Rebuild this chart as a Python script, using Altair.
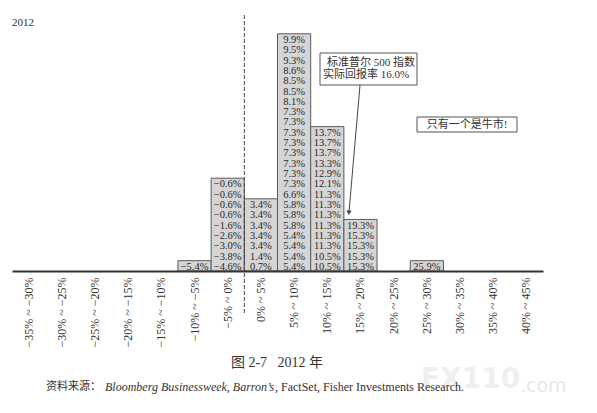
import altair as alt
import pandas as pd

# ---------------- data ----------------
bins = ["−35% ~ −30%", "−30% ~ −25%", "−25% ~ −20%", "−20% ~ −15%", "−15% ~ −10%",
        "−10% ~ −5%", "−5% ~ 0%", "0% ~ 5%", "5% ~ 10%", "10% ~ 15%", "15% ~ 20%",
        "20% ~ 25%", "25% ~ 30%", "30% ~ 35%", "35% ~ 40%", "40% ~ 45%"]

# strategist forecasts in each bin, listed bottom to top
fc_m10_m5 = [-5.4]
fc_m5_0 = [-4.6, -3.8, -3.0, -2.6, -1.6, -0.6, -0.6, -0.6, -0.6]
fc_0_5 = [0.7, 1.4, 3.4, 3.4, 3.4, 3.4, 3.4]
fc_5_10 = [5.4, 5.4, 5.4, 5.4, 5.8, 5.8, 5.8, 6.6, 7.3, 7.3, 7.3, 7.3, 7.3, 7.3,
           7.3, 7.3, 8.1, 8.5, 8.5, 8.6, 9.3, 9.5, 9.9]
fc_10_15 = [10.5, 10.5, 11.3, 11.3, 11.3, 11.3, 11.3, 11.3, 12.1, 12.9, 13.3,
            13.7, 13.7, 13.7]
fc_15_20 = [15.3, 15.3, 15.3, 15.3, 19.3]
fc_25_30 = [25.9]

columns = {
    "−10% ~ −5%": fc_m10_m5,
    "−5% ~ 0%": fc_m5_0,
    "0% ~ 5%": fc_0_5,
    "5% ~ 10%": fc_5_10,
    "10% ~ 15%": fc_10_15,
    "15% ~ 20%": fc_15_20,
    "25% ~ 30%": fc_25_30,
}

zero_bin = ["0% ~ 5%"]
year_label = "2012"
sp_note = ["标准普尔 500 指数", "实际回报率 16.0%"]
bull_note = "只有一个是牛市!"
caption = "图 2-7\u00a0\u00a0\u00a02012 年"
source_parts = ["资料来源：", "Bloomberg Businessweek, Barron’s",
                ", FactSet, Fisher Investments Research."]
watermark = ["FX110", ".com"]

# ---------------- tables ----------------
box_rows = [{"bin": b, "count": len(v)} for b, v in columns.items()]
text_rows = []
for b, vals in columns.items():
    for i, v in enumerate(vals):
        text_rows.append({"bin": b, "row": i + 0.5,
                          "label": f"{v:.1f}%".replace("-", "−")})
boxes = pd.DataFrame(box_rows)
texts = pd.DataFrame(text_rows)

SERIF = "Liberation Serif, Noto Sans CJK SC"
xscale = alt.Scale(domain=bins, paddingInner=0, paddingOuter=0)
yscale = alt.Scale(domain=[0, 25.5])

one = pd.DataFrame({"k": [0]})

rects = alt.Chart(boxes).mark_rect(
    fill="#d5d5d5", stroke="#5a5a5a", strokeWidth=1
).encode(
    x=alt.X("bin:N", sort=bins, scale=xscale,
            axis=alt.Axis(title=None, labelAngle=270, labelAlign="right",
                          labelBaseline="middle", labelPadding=6,
                          labelFont="Liberation Serif", labelFontSize=12,
                          labelColor="#333333", labelOverlap=False,
                          ticks=False, domainColor="#333333", domainWidth=2)),
    y=alt.Y("count:Q", scale=yscale, axis=None),
    y2=alt.datum(0),
)

vals = alt.Chart(texts).mark_text(
    font="Liberation Serif", fontSize=10.5, color="#2a2a2a", dy=1
).encode(
    x=alt.X("bin:N", sort=bins, scale=xscale),
    y=alt.Y("row:Q", scale=yscale),
    text="label:N",
)

zero_line = alt.Chart(pd.DataFrame({"bin": zero_bin})).mark_rule(
    strokeDash=[4, 2], color="#444444", strokeWidth=1
).encode(
    x=alt.X("bin:N", sort=bins, scale=xscale, bandPosition=0),
    y=alt.value(7), y2=alt.value(305),
)

year = alt.Chart(one).mark_text(
    text=year_label, font=SERIF, fontSize=11, align="left", color="#333333"
).encode(x=alt.value(0), y=alt.value(15))

sp_box = alt.Chart(one).mark_rect(
    fill="white", stroke="#555555", strokeWidth=1
).encode(x=alt.value(308), x2=alt.value(405), y=alt.value(45), y2=alt.value(77))

sp_t1 = alt.Chart(one).mark_text(
    text=sp_note[0], font=SERIF, fontSize=11, align="right", color="#333333"
).encode(x=alt.value(403), y=alt.value(55))
sp_t2 = alt.Chart(one).mark_text(
    text=sp_note[1], font=SERIF, fontSize=11, align="left", color="#333333"
).encode(x=alt.value(311), y=alt.value(67))

arrow = alt.Chart(one).mark_rule(color="#444444", strokeWidth=1).encode(
    x=alt.value(348), y=alt.value(77), x2=alt.value(337), y2=alt.value(204))
arrow_head = alt.Chart(one).mark_point(
    shape="triangle", filled=True, size=28, angle=185, color="#444444", opacity=1
).encode(x=alt.value(337), y=alt.value(204))

bull_box = alt.Chart(one).mark_rect(
    fill="white", stroke="#555555", strokeWidth=1
).encode(x=alt.value(405), x2=alt.value(505), y=alt.value(109), y2=alt.value(124))
bull_t = alt.Chart(one).mark_text(
    text=bull_note, font=SERIF, fontSize=11, color="#333333"
).encode(x=alt.value(455), y=alt.value(116.5))

cap = alt.Chart(one).mark_text(
    text=caption, font=SERIF, fontSize=14, color="#333333"
).encode(x=alt.value(265), y=alt.value(355))

src1 = alt.Chart(one).mark_text(
    text=source_parts[0], font=SERIF, fontSize=11, align="left", color="#333333"
).encode(x=alt.value(34), y=alt.value(379))
src2 = alt.Chart(one).mark_text(
    text=source_parts[1], font="Liberation Serif", fontStyle="italic",
    fontSize=12, align="left", color="#333333"
).encode(x=alt.value(93), y=alt.value(379))
src3 = alt.Chart(one).mark_text(
    text=source_parts[2], font="Liberation Serif", fontSize=12, align="left",
    color="#333333"
).encode(x=alt.value(263), y=alt.value(379))

wm1 = alt.Chart(one).mark_text(
    text=watermark[0], font="DejaVu Sans", fontWeight="bold", fontSize=28,
    align="left", color="#efefef"
).encode(x=alt.value(409), y=alt.value(372))
wm2 = alt.Chart(one).mark_text(
    text=watermark[1], font="DejaVu Sans", fontSize=19, align="left",
    color="#e8e8e8"
).encode(x=alt.value(508), y=alt.value(378))

chart = alt.layer(
    wm1, wm2, rects, vals, zero_line, year, sp_box, sp_t1, sp_t2, arrow,
    arrow_head, bull_box, bull_t, cap, src1, src2, src3
).properties(
    width=531, height=263,
    autosize=alt.AutoSizeParams(type="none"),
    padding={"left": 4, "top": 0, "right": 46, "bottom": 134},
).configure_view(stroke=None)

chart.save("out.html", embed_options={"renderer": "svg", "actions": False})
